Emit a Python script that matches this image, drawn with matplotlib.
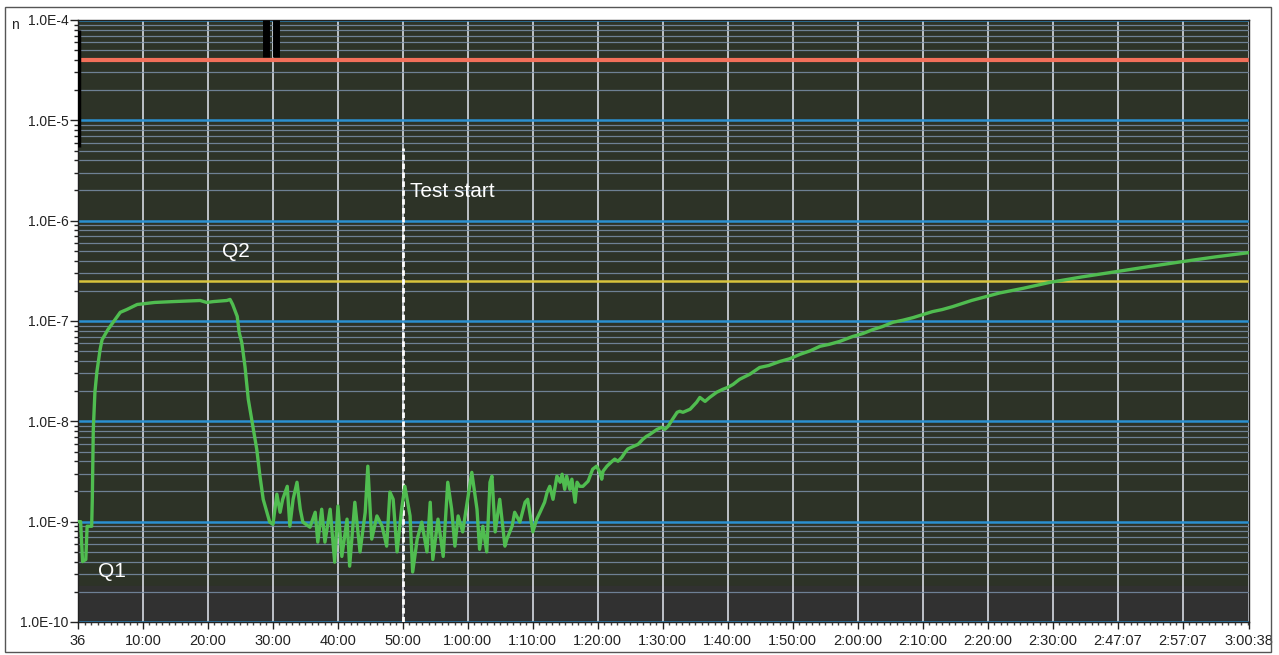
import math

import matplotlib.pyplot as plt
from matplotlib.patches import Rectangle
from matplotlib.ticker import FixedLocator, LogLocator, MultipleLocator, NullFormatter, FuncFormatter

# helium leak rate trace, time in minutes since start, rate in mbar*l/s
time_min = [
    0.0, 0.4, 0.7, 1.2, 1.4, 2.1, 2.2, 2.35, 2.6, 2.9, 3.4, 3.7, 4.6, 5.4, 6.5,
    7.5, 9.1, 10.6, 11.8, 14.6, 18.8, 19.8, 20.8, 22.9, 23.4, 23.8, 24.5, 24.8,
    25.2, 25.7, 26.2, 26.8, 27.5, 28.0, 28.5, 29.5, 30.0, 30.6, 31.1, 31.5, 32.2,
    32.6, 33.1, 33.7, 34.2, 34.6, 35.7, 36.5, 36.9, 37.5, 38.0, 38.8, 39.5, 40.0,
    40.6, 41.4, 41.8, 42.6, 43.4, 44.2, 44.6, 45.2, 46.0, 46.8, 47.5, 48.0, 48.5,
    49.1, 49.8, 50.3, 51.1, 51.5, 52.2, 52.9, 53.7, 54.2, 54.6, 55.4, 56.2, 56.9,
    57.5, 58.0, 58.5, 59.2, 59.8, 60.6, 61.4, 61.8, 62.3, 62.9, 63.4, 63.7, 64.2,
    64.9, 65.7, 66.0, 66.8, 67.2, 68.0, 68.8, 69.2, 70.0, 70.6, 71.1, 71.8, 72.2,
    72.6, 73.1, 73.7, 74.2, 74.5, 74.9, 75.2, 75.7, 76.0, 76.5, 76.8, 77.2, 77.7,
    78.5, 79.2, 79.8, 80.3, 80.6, 80.8, 81.4, 82.2, 82.6, 83.1, 83.7, 84.2, 84.6,
    85.4, 86.2, 86.9, 87.5, 88.0, 88.5, 89.1, 89.8, 90.3, 90.8, 91.5, 92.2, 92.6,
    93.1, 94.2, 95.2, 95.7, 96.5, 97.2, 98.3, 99.2, 100.0, 100.8, 101.8, 103.4,
    104.9, 106.3, 108.0, 109.5, 111.1, 112.7, 114.2, 115.6, 117.2, 119.2, 120.8,
    122.3, 123.8, 125.4, 127.0, 128.5, 131.5, 133.0, 134.6, 137.5, 141.8, 145.5,
    149.5, 154.5, 159.8, 165.0, 170.0, 175.0, 180.2,
]
leak_rate = [
    1.0e-9, 1.0e-9, 4.0e-10, 4.2e-10, 9.0e-10, 9.0e-10, 1.7e-9, 8.3e-9, 1.95e-8,
    3.1e-8, 5.2e-8, 6.5e-8, 8.2e-8, 9.7e-8, 1.22e-7, 1.30e-7, 1.46e-7, 1.50e-7,
    1.53e-7, 1.56e-7, 1.60e-7, 1.53e-7, 1.56e-7, 1.60e-7, 1.64e-7, 1.46e-7,
    1.11e-7, 7.7e-8, 6.1e-8, 3.5e-8, 1.66e-8, 9.8e-9, 5.3e-9, 2.84e-9, 1.67e-9,
    9.9e-10, 9.4e-10, 1.88e-9, 1.24e-9, 1.67e-9, 2.25e-9, 9.0e-10, 1.67e-9,
    2.47e-9, 1.33e-9, 9.9e-10, 8.8e-10, 1.24e-9, 6.25e-10, 1.33e-9, 6.25e-10,
    1.33e-9, 3.95e-10, 1.43e-9, 4.5e-10, 1.06e-9, 3.6e-10, 1.56e-9, 5.0e-10,
    1.24e-9, 3.57e-9, 6.7e-10, 1.14e-9, 9.0e-10, 5.7e-10, 1.97e-9, 1.67e-9,
    5.0e-10, 1.33e-9, 2.25e-9, 1.14e-9, 3.15e-10, 6.7e-10, 9.9e-10, 5.0e-10,
    1.56e-9, 4.2e-10, 1.06e-9, 4.5e-10, 2.47e-9, 1.33e-9, 5.7e-10, 1.14e-9,
    7.9e-10, 1.43e-9, 3.1e-9, 1.33e-9, 5.3e-10, 9.0e-10, 5.0e-10, 2.47e-9,
    2.84e-9, 7.9e-10, 1.67e-9, 5.7e-10, 6.7e-10, 9.0e-10, 1.24e-9, 9.9e-10,
    1.56e-9, 1.67e-9, 7.9e-10, 1.06e-9, 1.24e-9, 1.56e-9, 1.97e-9, 2.25e-9,
    1.67e-9, 2.84e-9, 2.47e-9, 2.97e-9, 2.1e-9, 2.84e-9, 2.1e-9, 2.65e-9,
    1.56e-9, 2.47e-9, 2.25e-9, 2.25e-9, 2.53e-9, 3.33e-9, 3.57e-9, 3.11e-9,
    2.65e-9, 3.18e-9, 3.57e-9, 4.0e-9, 4.2e-9, 4.0e-9, 4.39e-9, 4.92e-9, 5.3e-9,
    5.6e-9, 5.9e-9, 6.6e-9, 7.1e-9, 7.4e-9, 7.8e-9, 8.3e-9, 8.7e-9, 8.3e-9,
    8.9e-9, 1.05e-8, 1.23e-8, 1.26e-8, 1.23e-8, 1.32e-8, 1.55e-8, 1.73e-8,
    1.58e-8, 1.73e-8, 1.95e-8, 2.08e-8, 2.18e-8, 2.33e-8, 2.62e-8, 2.95e-8,
    3.44e-8, 3.60e-8, 3.95e-8, 4.20e-8, 4.65e-8, 5.05e-8, 5.6e-8, 5.85e-8,
    6.25e-8, 7.0e-8, 7.5e-8, 8.2e-8, 8.8e-8, 9.7e-8, 1.02e-7, 1.08e-7, 1.24e-7,
    1.30e-7, 1.39e-7, 1.60e-7, 1.90e-7, 2.12e-7, 2.42e-7, 2.75e-7, 3.11e-7,
    3.50e-7, 3.91e-7, 4.35e-7, 4.8e-7,
]

tick_minutes = [0, 10, 20, 30, 40, 50, 60, 70, 80, 90, 100, 110, 120, 130,
                140, 150, 160, 170, 180.2]
tick_labels = ["36", "10:00", "20:00", "30:00", "40:00", "50:00", "1:00:00",
               "1:10:00", "1:20:00", "1:30:00", "1:40:00", "1:50:00", "2:00:00",
               "2:10:00", "2:20:00", "2:30:00", "2:47:07", "2:57:07", "3:00:38"]

reject_limit = 4.0e-5
q2_limit = 2.5e-7
test_start_min = 50.0
cursor_minutes = [29.0, 30.5]

plt.rcParams["font.family"] = ["Liberation Sans Narrow", "Liberation Sans", "DejaVu Sans"]
label_font = ["Liberation Sans", "DejaVu Sans"]

fig = plt.figure(figsize=(12.79, 6.55), dpi=100)
ax = fig.add_axes([0.061, 0.0504, 0.9155, 0.9191])

ax.set_facecolor("#2d3327")
ax.set_yscale("log")
ax.set_ylim(1e-10, 1e-4)
ax.set_xlim(0, 180.2)

# darker band at the bottom of the range
ax.axhspan(1e-10, 2.3e-10, color="#313131", zorder=1)

ax.grid(which="minor", axis="y", color="#7a8fa8", linewidth=0.9, alpha=0.85)
ax.grid(which="major", axis="y", color="#2b90d0", linewidth=1.8)
ax.grid(which="major", axis="x", color="#d6dae2", linewidth=1.2)

ax.axhline(reject_limit, color="#f2705a", linewidth=3, zorder=2)
ax.axhline(q2_limit, color="#d8c43c", linewidth=1.8, zorder=2)

ax.vlines(cursor_minutes, 4.3e-5, 1e-4, color="black", linewidth=5, zorder=3)
ax.vlines([0.15], 5.4e-6, 7.9e-5, color="black", linewidth=2.5, zorder=3)

ax.vlines([test_start_min], 1e-10, 5.3e-6, color="white", linewidth=2,
          linestyles=(0, (2, 1.2)), zorder=3)

ax.plot(time_min, leak_rate, color="#50bd50", linewidth=2.4, zorder=4)

ax.text(51.1, 1.94e-6, "Test start", color="white", fontsize=15,
        family=label_font, ha="left", va="center", zorder=5)
ax.text(22.2, 4.9e-7, "Q2", color="white", fontsize=15,
        family=label_font, ha="left", va="center", zorder=5)
ax.text(3.1, 3.2e-10, "Q1", color="white", fontsize=15,
        family=label_font, ha="left", va="center", zorder=5)

ax.yaxis.set_major_locator(LogLocator(base=10, numticks=10))
ax.yaxis.set_minor_locator(LogLocator(base=10, subs=range(2, 10), numticks=20))
ax.yaxis.set_minor_formatter(NullFormatter())
ax.yaxis.set_major_formatter(FuncFormatter(lambda v, pos: "1.0E%d" % round(math.log10(v))))

ax.xaxis.set_major_locator(FixedLocator(tick_minutes))
ax.set_xticklabels(tick_labels)
ax.xaxis.set_minor_locator(MultipleLocator(1))

ax.tick_params(axis="y", which="major", length=6, width=1, labelsize=10, pad=1, colors="#222222")
ax.tick_params(axis="y", which="minor", length=3, width=1, colors="#222222")
ax.tick_params(axis="x", which="major", length=5, width=1, labelsize=10.5, pad=4, colors="#222222")
ax.tick_params(axis="x", which="minor", length=2.5, width=1, colors="#444444")

for side in ["top", "right", "left", "bottom"]:
    ax.spines[side].set_color("#222222")
    ax.spines[side].set_linewidth(1)

fig.text(0.009, 0.955, "n", fontsize=10, color="#222222")
fig.patches.append(Rectangle((0.004, 0.005), 0.99, 0.985, transform=fig.transFigure,
                             fill=False, edgecolor="#555555", linewidth=1))

fig.savefig("out.png", dpi=100)
